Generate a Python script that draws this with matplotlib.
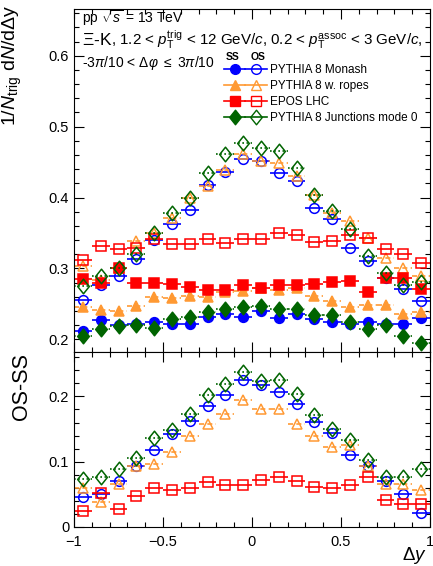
# Xi-K delta-y correlations, model comparison (SS / OS and OS-SS)
import numpy as np
import matplotlib.pyplot as plt
from matplotlib.lines import Line2D
from matplotlib.path import Path
from matplotlib.legend_handler import HandlerTuple
from matplotlib.ticker import MultipleLocator, FuncFormatter

plt.rcParams['font.family'] = ['Liberation Sans', 'DejaVu Sans']
plt.rcParams['mathtext.fontset'] = 'custom'
plt.rcParams['mathtext.rm'] = 'Liberation Sans'
plt.rcParams['mathtext.it'] = 'Liberation Sans:italic'
plt.rcParams['mathtext.bf'] = 'Liberation Sans:bold'

# bin centres in delta y
dy = [-0.95, -0.85, -0.75, -0.65, -0.55, -0.45, -0.35, -0.25, -0.15, -0.05,
      0.05, 0.15, 0.25, 0.35, 0.45, 0.55, 0.65, 0.75, 0.85, 0.95]

# upper panel: same-sign (SS) and opposite-sign (OS)
monash_ss = [0.212, 0.227, 0.220, 0.221, 0.225, 0.221, 0.221, 0.231, 0.235, 0.232,
             0.240, 0.230, 0.235, 0.228, 0.224, 0.221, 0.224, 0.222, 0.222, 0.230]
monash_os = [0.256, 0.276, 0.289, 0.313, 0.340, 0.362, 0.383, 0.417, 0.436, 0.454,
             0.451, 0.435, 0.423, 0.385, 0.370, 0.329, 0.310, 0.287, 0.271, 0.254]
ropes_ss = [0.245, 0.241, 0.240, 0.247, 0.259, 0.258, 0.261, 0.260, 0.266, 0.268,
            0.272, 0.270, 0.272, 0.261, 0.254, 0.245, 0.249, 0.248, 0.235, 0.238]
ropes_os = [0.303, 0.283, 0.301, 0.338, 0.350, 0.371, 0.400, 0.416, 0.439, 0.462,
            0.451, 0.448, 0.430, 0.403, 0.378, 0.367, 0.343, 0.315, 0.301, 0.289]
epos_ss = [0.285, 0.279, 0.301, 0.279, 0.280, 0.278, 0.274, 0.270, 0.270, 0.276,
           0.272, 0.276, 0.276, 0.278, 0.281, 0.282, 0.267, 0.287, 0.286, 0.271]
epos_os = [0.312, 0.331, 0.328, 0.329, 0.341, 0.335, 0.334, 0.342, 0.336, 0.341,
           0.341, 0.350, 0.347, 0.337, 0.338, 0.347, 0.343, 0.328, 0.320, 0.308]
junc_ss = [0.205, 0.214, 0.219, 0.220, 0.216, 0.228, 0.231, 0.238, 0.242, 0.245,
           0.247, 0.242, 0.242, 0.234, 0.234, 0.224, 0.215, 0.220, 0.205, 0.194]
junc_os = [0.275, 0.289, 0.301, 0.320, 0.350, 0.378, 0.400, 0.435, 0.461, 0.477,
           0.470, 0.465, 0.442, 0.404, 0.381, 0.355, 0.318, 0.294, 0.276, 0.281]

# lower panel: OS - SS
monash_diff = [0.046, 0.050, 0.071, 0.093, 0.118, 0.143, 0.162, 0.185, 0.202, 0.225,
               0.217, 0.207, 0.189, 0.161, 0.144, 0.111, 0.094, 0.070, 0.051, 0.021]
ropes_diff = [0.059, 0.038, 0.066, 0.094, 0.097, 0.115, 0.140, 0.157, 0.173, 0.195,
              0.181, 0.180, 0.158, 0.140, 0.122, 0.125, 0.094, 0.066, 0.066, 0.056]
epos_diff = [0.025, 0.052, 0.027, 0.047, 0.060, 0.057, 0.060, 0.069, 0.064, 0.065,
             0.072, 0.076, 0.071, 0.061, 0.059, 0.065, 0.076, 0.042, 0.035, 0.035]
junc_diff = [0.074, 0.077, 0.089, 0.105, 0.137, 0.148, 0.173, 0.202, 0.219, 0.238,
             0.224, 0.225, 0.204, 0.171, 0.150, 0.133, 0.102, 0.076, 0.077, 0.089]

labels = ["PYTHIA 8 Monash", "PYTHIA 8 w. ropes", "EPOS LHC", "PYTHIA 8 Junctions mode 0"]

# ROOT-like diamond (a bit wider than matplotlib's thin diamond)
diamond = Path([(0, 1), (0.8, 0), (0, -1), (-0.8, 0), (0, 1)],
               [Path.MOVETO, Path.LINETO, Path.LINETO, Path.LINETO, Path.CLOSEPOLY])

# style per model: colour, marker, size, error-bar line style
styles = [
    ("#0000ff", "o", 7, "-"),
    ("#ff9933", "^", 7.5, (0, (3, 2))),
    ("#ff0000", "s", 7, "-"),
    ("#006400", diamond, 10.5, (0, (1, 1.5))),
]

ss_data = [monash_ss, ropes_ss, epos_ss, junc_ss]
os_data = [monash_os, ropes_os, epos_os, junc_os]
diff_data = [monash_diff, ropes_diff, epos_diff, junc_diff]

W, H = 433, 566
fig = plt.figure(figsize=(W / 100, H / 100), dpi=100)

def fx(px):
    return px / W

def fy(py):
    return 1 - py / H

ax1 = fig.add_axes([fx(74), fy(352), fx(430) - fx(74), fy(9) - fy(352)])
ax2 = fig.add_axes([fx(74), fy(527), fx(430) - fx(74), fy(352) - fy(527)])

def draw(ax, y, col, mk, ms, ls, filled):
    eb = ax.errorbar(dy, y, xerr=0.05, fmt="none", ecolor=col, elinewidth=1.2,
                     capsize=0)
    eb[2][0].set_linestyle(ls)
    ax.plot(dy, y, ls="none", marker=mk, ms=ms, mew=1.1,
            mfc=col if filled else "none", mec=col)

for (col, mk, ms, ls), ss, os_ in zip(styles, ss_data, os_data):
    draw(ax1, ss, col, mk, ms, ls, True)
    draw(ax1, os_, col, mk, ms, ls, False)

for (col, mk, ms, ls), d in zip(styles, diff_data):
    draw(ax2, d, col, mk, ms, ls, False)

for ax in (ax1, ax2):
    ax.set_xlim(-1, 1)
    ax.xaxis.set_major_locator(MultipleLocator(0.5))
    ax.xaxis.set_minor_locator(MultipleLocator(0.1))
    ax.yaxis.set_major_locator(MultipleLocator(0.1))
    ax.yaxis.set_minor_locator(MultipleLocator(0.02))
    ax.tick_params(which="both", direction="in", top=True, right=True, labelsize=10.5)
    ax.tick_params(which="major", length=7, width=0.8)
    ax.tick_params(which="minor", length=3.5, width=0.8)
    for s in ax.spines.values():
        s.set_linewidth(0.8)
    ax.yaxis.set_major_formatter(FuncFormatter(lambda v, p: "%g" % round(v, 3)))

ax1.set_ylim(0.182, 0.666)
ax1.tick_params(labelbottom=False)
ax2.set_ylim(0, 0.268)
ax2.tick_params(axis="x", which="major", pad=6)
ax2.xaxis.set_major_formatter(FuncFormatter(lambda v, p: ("%g" % v).replace("-", "\u2212")))

# axis titles
fig.text(fx(12), fy(5), r"1/$N_{\mathrm{trig}}$ d$N$/d$\Delta$y", rotation=90,
         ha="center", va="top", fontsize=14)
fig.text(fx(22), fy(353), "OS-SS", rotation=90, ha="center", va="top", fontsize=15.5)
fig.text(fx(427), fy(556), r"$\Delta y$", ha="right", va="center", fontsize=13.5)

# header text
fig.text(fx(82), fy(18), r"pp $\sqrt{s}$ = 13 TeV", ha="left", va="center", fontsize=10)
fig.text(fx(82), fy(40), r"$\Xi$-K", ha="left", va="center", fontsize=12.5)
fig.text(fx(111), fy(40),
         r", 1.2 < $p_{\mathrm{T}}^{\mathrm{trig}}$ < 12 GeV/$c$, 0.2 < $p_{\mathrm{T}}^{\mathrm{assoc}}$ < 3 GeV/$c$,",
         ha="left", va="center", fontsize=10.9)
fig.text(fx(82), fy(63), r"-3$\pi$/10 < $\Delta\varphi$ $\leq$ 3$\pi$/10", ha="left",
         va="center", fontsize=10)
fig.text(fx(233), fy(57), "SS", ha="center", va="center", fontsize=7.5, fontweight="bold")
fig.text(fx(258), fy(57), "OS", ha="center", va="center", fontsize=7.5, fontweight="bold")

handles = []
for col, mk, ms, ls in styles:
    h_ss = Line2D([], [], color=col, marker=mk, ms=ms, mfc=col, mec=col, lw=1.2)
    h_os = Line2D([], [], color=col, marker=mk, ms=ms, mfc="none", mec=col, lw=1.2)
    handles.append((h_ss, h_os))

fig.legend(handles, labels, handler_map={tuple: HandlerTuple(ndivide=None, pad=0)},
           loc="upper left", bbox_to_anchor=(fx(224), fy(64)), frameon=False,
           fontsize=8.5, handlelength=3.6, handletextpad=0.3, labelspacing=0.35,
           borderpad=0, borderaxespad=0)

fig.savefig("out.png", dpi=100)
